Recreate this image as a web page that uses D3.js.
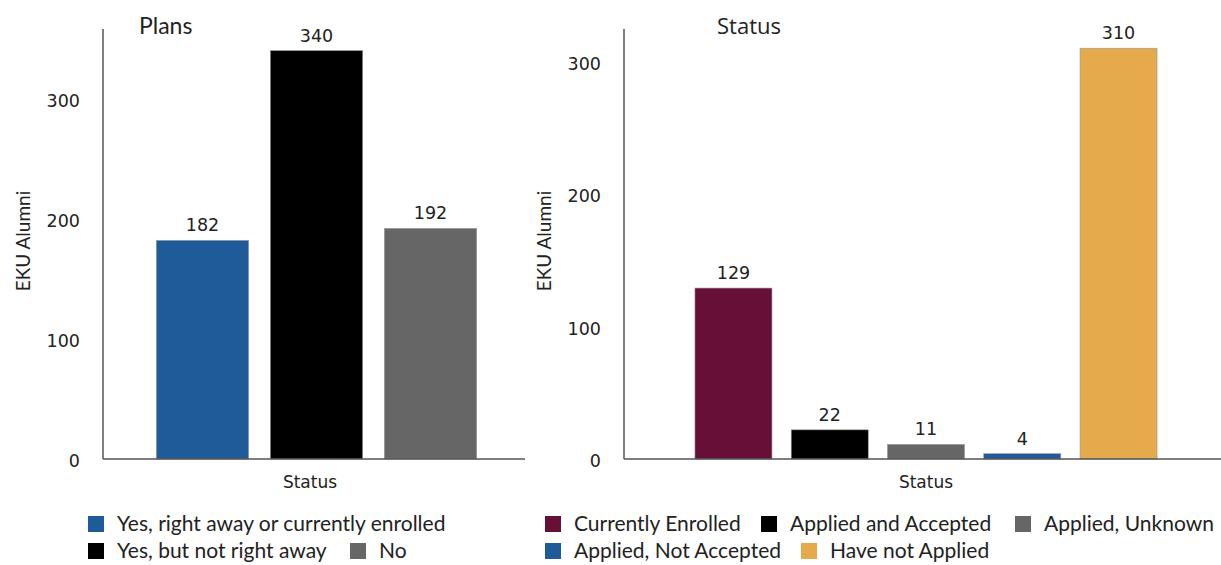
<!DOCTYPE html>
<html><head><meta charset="utf-8">
<script src="https://cdn.jsdelivr.net/npm/d3@7"></script>
<style>body{margin:0;background:#fff}svg{display:block}</style>
</head><body>
<svg id="c" width="1221" height="565"></svg>
<script>
const planCategories = ["Yes, right away or currently enrolled", "Yes, but not right away", "No"];
const planValues = [182, 340, 192];
const planColors = ["#1f5b98", "#000000", "#666666"];
const planTicks = [0, 100, 200, 300];

const statusCategories = ["Currently Enrolled", "Applied and Accepted", "Applied, Unknown", "Applied, Not Accepted", "Have not Applied"];
const statusValues = [129, 22, 11, 4, 310];
const statusColors = ["#661038", "#000000", "#666666", "#1f5b98", "#e5aa4c"];
const statusTicks = [0, 100, 200, 300];

const svg = d3.select("#c");
const numFont = "'DejaVu Sans', Verdana, sans-serif";
const lblFont = "Lato, sans-serif";

function panel(o) {
  const g = svg.append("g");
  const y = d3.scaleLinear().domain([0, o.ymax]).range([459, 29]);
  const x = d3.scaleBand().domain(o.cats).range([o.x0, o.x1]).paddingInner(o.pi).paddingOuter(o.po);
  const ya = d3.axisLeft(y).tickValues(o.ticks).tickSize(0).tickPadding(0).tickFormat(d3.format("d"));
  const yg = g.append("g").attr("transform", `translate(${o.ax},0)`).call(ya);
  yg.select(".domain").remove();
  yg.selectAll("text").attr("x", o.tickX - o.ax).attr("dy", "0.45em").attr("font-family", numFont).attr("font-size", 17.5).attr("fill", "#222");
  g.append("line").attr("x1", o.ax).attr("x2", o.ax).attr("y1", 29).attr("y2", 459).attr("stroke", "#555").attr("stroke-width", 1.5);
  g.selectAll("rect.bar").data(o.vals).join("rect").attr("class", "bar")
    .attr("x", (d, i) => x(o.cats[i])).attr("width", x.bandwidth())
    .attr("y", d => y(d)).attr("height", d => y(0) - y(d))
    .attr("fill", (d, i) => o.colors[i]).attr("stroke", "#999").attr("stroke-width", 0.6);
  g.selectAll("text.val").data(o.vals).join("text").attr("class", "val")
    .attr("x", (d, i) => x(o.cats[i]) + x.bandwidth() / 2).attr("y", d => y(d) - 9)
    .attr("text-anchor", "middle").attr("font-family", numFont).attr("font-size", 17.5).attr("fill", "#222")
    .text(d => d);
  g.append("line").attr("x1", o.ax).attr("x2", o.xend).attr("y1", 459).attr("y2", 459).attr("stroke", "#555").attr("stroke-width", 1.5);
  g.append("text").attr("x", o.titleX).attr("y", 34).attr("font-family", o.titleFont).attr("font-size", o.titleSize).attr("fill", "#222").text(o.title);
  g.append("text").attr("x", o.xtitleX).attr("y", 488).attr("text-anchor", "middle").attr("font-family", numFont).attr("font-size", 17).attr("fill", "#222").text("Status");
  g.append("text").attr("transform", `translate(${o.ytitleX},241) rotate(-90)`).attr("text-anchor", "middle")
    .attr("font-family", lblFont).attr("font-size", 19).attr("fill", "#222").text("EKU Alumni");
  const lg = g.append("g");
  o.legend.forEach((L, i) => {
    lg.append("rect").attr("x", L[0]).attr("y", L[1] - 8).attr("width", 16).attr("height", 16).attr("fill", o.colors[i]);
    lg.append("text").attr("x", L[0] + 29).attr("y", L[1] + 7).attr("font-family", lblFont).attr("font-size", 21).attr("fill", "#222").text(o.cats[i]);
  });
}

panel({cats: planCategories, vals: planValues, colors: planColors, ticks: planTicks, ymax: 358,
  x0: 105, x1: 528, pi: 0.19, po: 0.45, ax: 103, xend: 525, tickX: 80,
  title: "Plans", titleX: 139, titleFont: lblFont, titleSize: 23, xtitleX: 310, ytitleX: 30,
  legend: [[88, 524], [88, 551], [350, 551]]});

panel({cats: statusCategories, vals: statusValues, colors: statusColors, ticks: statusTicks, ymax: 324.5,
  x0: 624, x1: 1228, pi: 0.2, po: 0.737, ax: 624, xend: 1221, tickX: 601,
  title: "Status", titleX: 717, titleFont: "'Open Sans', sans-serif", titleSize: 22, xtitleX: 926, ytitleX: 551,
  legend: [[545, 524], [761, 524], [1015, 524], [545, 551], [801, 551]]});
</script>
</body></html>
